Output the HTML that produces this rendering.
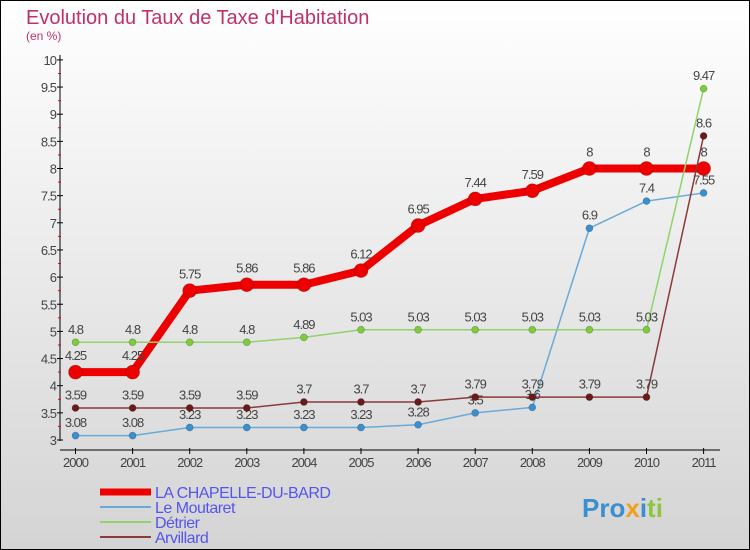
<!DOCTYPE html>
<html><head><meta charset="utf-8">
<style>
body{margin:0;}
#wrap{width:750px;height:550px;position:relative;overflow:hidden;}
svg text{font-family:"Liberation Sans",sans-serif;}
</style></head>
<body>
<div id="wrap">
<svg id="chart" width="750" height="550" viewBox="0 0 750 550">
<defs><linearGradient id="bg" x1="0" y1="0" x2="0" y2="1"><stop offset="0" stop-color="#ffffff"/><stop offset="1" stop-color="#d4d4d4"/></linearGradient></defs>
<rect x="0.5" y="0.5" width="749" height="549" fill="url(#bg)" stroke="#000"/>
<text x="26" y="24" font-size="20" fill="#c0306a">Evolution du Taux de Taxe d'Habitation</text>
<text x="26" y="40" font-size="12" fill="#c0306a">(en %)</text>
<g id="axes"></g>
<g id="series"></g>
<g id="legend"></g>
<text x="582" y="517" font-size="26" font-weight="bold" fill="#f39c12"><tspan fill="#3a8fd0">Pro</tspan><tspan fill="#f0a020">x</tspan><tspan fill="#3a8fd0">i</tspan><tspan fill="#8cc63f">ti</tspan></text>
</svg>
</div>
<script>
const years=[2000,2001,2002,2003,2004,2005,2006,2007,2008,2009,2010,2011];
const chapelle=[4.25,4.25,5.75,5.86,5.86,6.12,6.95,7.44,7.59,8,8,8];
const moutaret=[3.08,3.08,3.23,3.23,3.23,3.23,3.28,3.5,3.6,6.9,7.4,7.55];
const detrier=[4.8,4.8,4.8,4.8,4.89,5.03,5.03,5.03,5.03,5.03,5.03,9.47];
const arvillard=[3.59,3.59,3.59,3.59,3.7,3.7,3.7,3.79,3.79,3.79,3.79,8.6];
const yTicks=[3,3.5,4,4.5,5,5.5,6,6.5,7,7.5,8,8.5,9,9.5,10];
const NS="http://www.w3.org/2000/svg";
const X=i=>75.5+i*57.1;
const Y=v=>440-(v-3)*54.3;
function mk(tag,attrs,parent){const e=document.createElementNS(NS,tag);for(const k in attrs)e.setAttribute(k,attrs[k]);parent.appendChild(e);return e;}
const axes=document.getElementById('axes');
mk('line',{x1:60,y1:55,x2:60,y2:441,stroke:'#000'},axes);

mk('line',{x1:60,y1:450,x2:720,y2:450,stroke:'#000'},axes);

yTicks.forEach(t=>{
  mk('line',{x1:57,y1:Y(t),x2:63,y2:Y(t),stroke:'#000'},axes);
  if(t<10) mk('line',{x1:58,y1:Y(t+0.25),x2:61,y2:Y(t+0.25),stroke:'#e00'},axes);
  const tx=mk('text',{x:56,y:Y(t)+5,'font-size':13,fill:'#444','text-anchor':'end','letter-spacing':'-1'},axes);
  tx.textContent=String(t);
  
  
});
years.forEach((y,i)=>{
  mk('line',{x1:X(i),y1:448,x2:X(i),y2:454,stroke:'#000'},axes);
  const tx=mk('text',{x:X(i),y:467,'font-size':13,fill:'#444','text-anchor':'middle','letter-spacing':'-1'},axes);
  tx.textContent=String(y);
  
  
});
const series=[
 {name:'LA CHAPELLE-DU-BARD',data:chapelle,color:'#ee0000',w:8,r:7,dot:'#ee0000',slug:'chapelle'},
 {name:'Le Moutaret',data:moutaret,color:'#6aaad8',w:1.5,r:3.5,dot:'#3a8fd0',slug:'moutaret'},
 {name:'Détrier',data:detrier,color:'#8fd46a',w:1.5,r:3.5,dot:'#7ccc3c',slug:'detrier'},
 {name:'Arvillard',data:arvillard,color:'#8b3a3a',w:1.5,r:3.5,dot:'#6b1a1a',slug:'arvillard'}
];
const sg=document.getElementById('series');
series.forEach(s=>{
  const g=mk('g',{},sg);
  
  
  const pl=mk('polyline',{points:s.data.map((v,i)=>X(i)+','+Y(v)).join(' '),fill:'none',stroke:s.color,'stroke-width':s.w,'stroke-linejoin':'round'},g);
  
  
  s.data.forEach((v,i)=>{
    const c=mk('circle',{cx:X(i),cy:Y(v),r:s.r,fill:s.dot,stroke:'rgba(0,0,0,0.25)','stroke-width':0.7},g);
    
    
    const t=mk('text',{x:X(i),y:Y(v)-(s.r+5),'font-size':13,fill:'#444','text-anchor':'middle','letter-spacing':'-1'},g);
    t.textContent=String(v);
    
    
  });
});
const lg=document.getElementById('legend');
series.forEach((s,i)=>{
  const y=492+i*15;
  const l=mk('line',{x1:100,y1:y,x2:151,y2:y,stroke:s.color,'stroke-width':i===0?7:2},lg);
  
  
  const t=mk('text',{x:155,y:y+6,'font-size':16,fill:'#5555ee','letter-spacing':'-0.5'},lg);
  t.textContent=s.name;
  
  
});
</script>
</body></html>
